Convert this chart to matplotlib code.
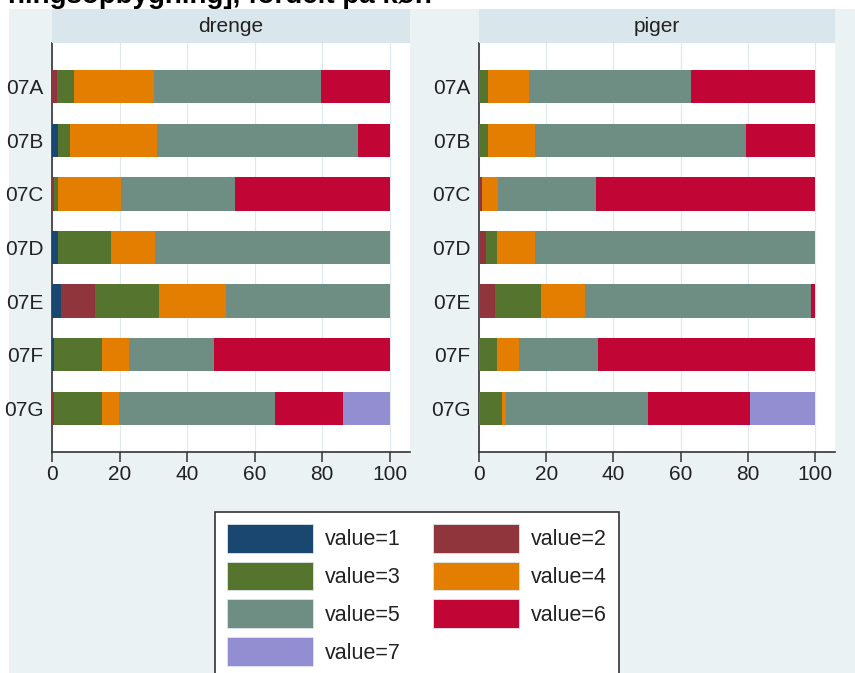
import numpy as np
import matplotlib
matplotlib.use('Agg')
import matplotlib.pyplot as plt
from matplotlib.patches import Rectangle, Patch

plt.rcParams['font.family'] = ['Liberation Sans', 'DejaVu Sans']

# categories (top to bottom)
categories = ['07A', '07B', '07C', '07D', '07E', '07F', '07G']
value_labels = ['value=1', 'value=2', 'value=3', 'value=4', 'value=5', 'value=6', 'value=7']
panel_titles = ['drenge', 'piger']

# percent shares, drenge
drenge_1 = [0, 1.8, 0, 1.8, 2.6, 0.6, 0]
drenge_2 = [1.5, 0, 0.5, 0, 10.2, 0, 0.5]
drenge_3 = [5.0, 3.5, 1.3, 15.7, 19.0, 14.2, 14.3]
drenge_4 = [23.7, 25.7, 18.5, 13.1, 19.7, 7.9, 5.1]
drenge_5 = [49.4, 59.6, 34.0, 69.4, 48.5, 25.3, 46.1]
drenge_6 = [20.4, 9.4, 45.7, 0, 0, 52.0, 20.3]
drenge_7 = [0, 0, 0, 0, 0, 0, 13.7]

# percent shares, piger
piger_1 = [0, 0, 0, 0, 0, 0, 0]
piger_2 = [0, 0, 1.0, 2.2, 4.9, 0, 0]
piger_3 = [2.6, 2.6, 0, 3.1, 13.5, 5.3, 6.9]
piger_4 = [12.2, 14.2, 4.6, 11.5, 13.3, 6.6, 1.2]
piger_5 = [48.2, 62.8, 29.3, 83.2, 67.2, 23.4, 42.2]
piger_6 = [37.0, 20.4, 65.1, 0, 1.1, 64.7, 30.5]
piger_7 = [0, 0, 0, 0, 0, 0, 19.2]

colors = ['#1a476f', '#90353b', '#55752f', '#e37e00', '#6e8e84', '#c10534', '#938dd2']
bg = '#eaf2f3'
strip = '#d9e6eb'

W, H = 855, 673
fig = plt.figure(figsize=(W / 100, H / 100), dpi=100, facecolor='white')

# outer shaded region, behind everything
fig.patches.append(Rectangle((9 / W, 0), 1 - 9 / W, 1 - 9 / H, transform=fig.transFigure,
                             facecolor=bg, edgecolor='none', zorder=-10))
# title is cut off at the top edge in the original
fig.text(8 / W, 1 - 3 / H, 'ningsopbygning], fordelt på køn', fontsize=20, fontweight='bold',
         va='baseline', ha='left', zorder=5)

panels = [
    (panel_titles[0], [drenge_1, drenge_2, drenge_3, drenge_4, drenge_5, drenge_6, drenge_7], 52, 410),
    (panel_titles[1], [piger_1, piger_2, piger_3, piger_4, piger_5, piger_6, piger_7], 479, 835),
]

y = np.arange(len(categories))
for title, series, x0, x1 in panels:
    ax = fig.add_axes([x0 / W, 1 - 452 / H, (x1 - x0) / W, (452 - 43) / H])
    ax.set_facecolor('white')
    left = np.zeros(len(categories))
    for vals, c in zip(series, colors):
        vals = np.array(vals, dtype=float)
        ax.barh(y, vals, left=left, height=0.62, color=c, edgecolor='none', zorder=3)
        left += vals
    ax.set_xlim(0, 106)
    ax.set_ylim(6.82, -0.82)
    ax.set_xticks([0, 20, 40, 60, 80, 100])
    ax.set_yticks(y)
    ax.set_yticklabels(categories)
    ax.xaxis.grid(True, color='#e0eaee', linewidth=0.9, zorder=1)
    ax.set_axisbelow(True)
    for s in ['top', 'right']:
        ax.spines[s].set_visible(False)
    for s in ['left', 'bottom']:
        ax.spines[s].set_color('#333333')
        ax.spines[s].set_linewidth(1.2)
    ax.tick_params(axis='x', length=7, width=1.1, color='#333333', labelsize=15, pad=2, labelcolor='#222222')
    ax.tick_params(axis='y', length=0, labelsize=15, pad=6, labelcolor='#222222')

    hx = fig.add_axes([x0 / W, 1 - 43 / H, (x1 - x0) / W, 34 / H])
    hx.set_facecolor(strip)
    hx.set_xticks([])
    hx.set_yticks([])
    for s in hx.spines.values():
        s.set_visible(False)
    hx.text(0.5, 0.5, title, ha='center', va='center', fontsize=15, color='#222222',
            transform=hx.transAxes)

# legend, row-major order like the original
order = [0, 2, 4, 6, 1, 3, 5]
handles = [Patch(facecolor=colors[i], edgecolor='#dde6ea', linewidth=0.6, label=value_labels[i]) for i in order]
leg = fig.legend(handles=handles, loc='upper center', bbox_to_anchor=(417 / W, 1 - 512 / H),
                 ncol=2, fontsize=15.5, frameon=True, fancybox=False, framealpha=1, borderaxespad=0,
                 handlelength=4.0, handleheight=1.68, handletextpad=0.55, labelspacing=0.42,
                 columnspacing=1.5, borderpad=0.55)
leg.get_frame().set_edgecolor('#333333')
leg.get_frame().set_linewidth(1.2)
for t in leg.get_texts():
    t.set_color('#222222')

fig.savefig('out.png', dpi=100, facecolor='white')
